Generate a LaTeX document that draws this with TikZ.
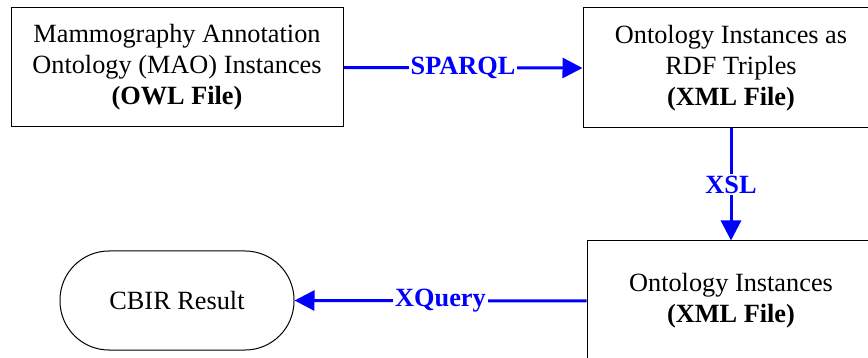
\documentclass[tikz,border=0pt]{standalone}
\usepackage{fontspec}
\setmainfont{Liberation Serif}
\usetikzlibrary{arrows.meta}
\definecolor{linkblue}{RGB}{0,0,255}
\tikzset{
  every node/.style={font=\fontsize{26.3}{31}\selectfont},
  stage/.style={draw=black, line width=1pt, fill=white, align=center, inner sep=0pt},
  result/.style={stage, rounded corners=49pt},
  flow/.style={draw=linkblue, line width=3pt, -{Triangle[length=20pt,width=20pt]}},
  flowlabel/.style={fill=white, text=linkblue, inner sep=2pt, font=\fontsize{26.3}{31}\selectfont\bfseries}
}
\begin{document}
\begin{tikzpicture}[x=1pt,y=-1pt]
  \useasboundingbox (0,0) rectangle (868,358);
  \node[stage, minimum width=332pt, minimum height=119pt] (mao) at (177,67.5)
    {Mammography Annotation\\Ontology (MAO) Instances\\\textbf{(OWL File)}};
  \node[stage, minimum width=296pt, minimum height=120pt] (rdf) at (731,68)
    {Ontology Instances as\\RDF Triples\\\textbf{(XML File)}};
  \node[stage, minimum width=288pt, minimum height=120pt] (xml) at (731,301)
    {Ontology Instances\\\textbf{(XML File)}};
  \node[result, minimum width=234pt, minimum height=99pt] (cbir) at (177,300.5)
    {CBIR Result};
  \draw[flow] (mao.east) -- node[flowlabel] {SPARQL} (rdf.west);
  \draw[flow] (rdf.south) -- node[flowlabel] {XSL} (xml.north);
  \draw[flow] (xml.west) -- node[flowlabel] {XQuery} (cbir.east);
\end{tikzpicture}
\end{document}
